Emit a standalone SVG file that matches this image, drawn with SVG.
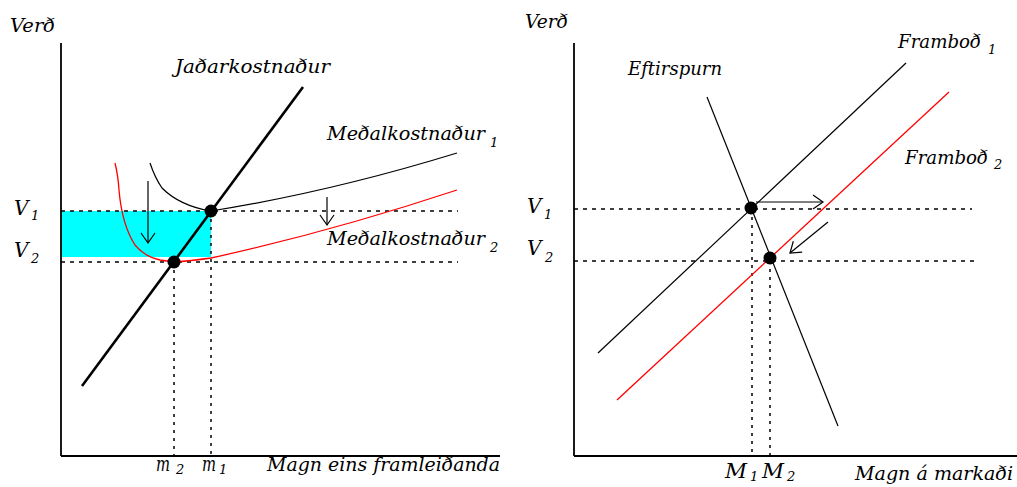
<svg xmlns="http://www.w3.org/2000/svg" width="1017" height="487" viewBox="0 0 1017 487">
<style>
text{font-family:"DejaVu Serif","Liberation Serif",serif;font-style:italic;fill:#000}
.lbl{font-size:18px}
.big{font-size:20px}
.sub{font-size:13px}
.axis{stroke:#000;stroke-width:1.8;fill:none}
.thin{stroke:#000;stroke-width:1.2;fill:none}
.red{stroke:#ff0000;stroke-width:1.3;fill:none}
.mc{stroke:#000;stroke-width:2.6;fill:none}
.dh{stroke:#000;stroke-width:1.3;stroke-dasharray:4 5;fill:none}
.dv{stroke:#000;stroke-width:1.5;stroke-dasharray:3 5;fill:none}
.arr{stroke:#000;stroke-width:1.2;fill:none;marker-end:url(#open)}
.dot{fill:#000}
</style>
<defs>
<marker id="open" markerUnits="userSpaceOnUse" markerWidth="20" markerHeight="20" viewBox="-12 -10 14 20" refX="0" refY="0" orient="auto">
<path d="M-10,-7 L0,0 L-10,7" fill="none" stroke="#000" stroke-width="1.2"/>
</marker>
</defs>
<rect width="1017" height="487" fill="#fff"/>

<g id="left-chart">
<g id="area"><rect x="61" y="211" width="150" height="46" fill="#00ffff"/></g>
<g id="axes-left">
<line class="axis" x1="61" y1="43" x2="61" y2="456"/>
<line class="axis" x1="61" y1="456" x2="500" y2="456"/>
</g>
<g id="guides-left">
<line class="dh" x1="61" y1="211" x2="458" y2="211"/>
<line class="dh" x1="61" y1="262" x2="458" y2="262"/>
<line class="dv" x1="174" y1="262" x2="174" y2="456"/>
<line class="dv" x1="211" y1="211" x2="211" y2="456"/>
</g>
<g id="ac1"><path class="thin" d="M150,163 Q155,178 162,188 Q180,206 211,211 Q330,192 457,153"/></g>
<g id="ac2"><path class="red" d="M115,163 Q118,175 119,190 Q122,225 135,245 Q145,257 160,260 L174,262 Q190,261 211,258 Q330,232 457,190"/></g>
<g id="mc"><line class="mc" x1="82" y1="386" x2="303" y2="87"/></g>
<g id="connectors-left">
<line class="arr" x1="148" y1="181" x2="148" y2="243"/>
<line class="arr" x1="327" y1="197" x2="327" y2="225"/>
</g>
<g id="points-left">
<circle class="dot" cx="211" cy="211" r="6.5"/>
<circle class="dot" cx="174" cy="262" r="6.5"/>
</g>
<g id="labels-left">
<text class="lbl" x="10" y="32" textLength="45" lengthAdjust="spacingAndGlyphs">Verð</text>
<text class="lbl" x="175" y="73" textLength="155" lengthAdjust="spacingAndGlyphs">Jaðarkostnaður</text>
<text class="lbl" x="327" y="140" textLength="158" lengthAdjust="spacingAndGlyphs">Meðalkostnaður</text>
<text class="sub" x="490" y="147">1</text>
<text class="lbl" x="327" y="245" textLength="158" lengthAdjust="spacingAndGlyphs">Meðalkostnaður</text>
<text class="sub" x="490" y="252">2</text>
<text class="big" x="14" y="215">V</text>
<text class="sub" x="31" y="220">1</text>
<text class="big" x="14" y="257">V</text>
<text class="sub" x="31" y="263">2</text>
<text class="big" x="156" y="471" textLength="14" lengthAdjust="spacingAndGlyphs">m</text>
<text class="sub" x="176" y="474">2</text>
<text class="big" x="202" y="471" textLength="14" lengthAdjust="spacingAndGlyphs">m</text>
<text class="sub" x="219" y="474">1</text>
<text class="lbl" x="267" y="471" textLength="233" lengthAdjust="spacingAndGlyphs">Magn eins framleiðanda</text>
</g>
</g>

<g id="right-chart">
<g id="axes-right">
<line class="axis" x1="574" y1="43" x2="574" y2="456"/>
<line class="axis" x1="574" y1="456" x2="1017" y2="456"/>
</g>
<g id="guides-right">
<line class="dh" x1="574" y1="209" x2="972" y2="209"/>
<line class="dh" x1="574" y1="261" x2="974" y2="261"/>
<line class="dv" x1="752" y1="209" x2="752" y2="456"/>
<line class="dv" x1="770" y1="261" x2="770" y2="456"/>
</g>
<g id="demand"><line class="thin" x1="707" y1="97" x2="838" y2="426"/></g>
<g id="supply1"><line class="thin" x1="598" y1="353" x2="906" y2="63"/></g>
<g id="supply2"><line class="red" x1="617" y1="400" x2="949" y2="92"/></g>
<g id="connectors-right">
<line class="arr" x1="756" y1="202" x2="823" y2="202"/>
<line class="arr" x1="828" y1="222" x2="790" y2="253"/>
</g>
<g id="points-right">
<circle class="dot" cx="751" cy="208" r="6.5"/>
<circle class="dot" cx="770" cy="258" r="6.5"/>
</g>
<g id="labels-right">
<text class="lbl" x="525" y="28" textLength="43" lengthAdjust="spacingAndGlyphs">Verð</text>
<text class="lbl" x="628" y="75" textLength="94" lengthAdjust="spacingAndGlyphs">Eftirspurn</text>
<text class="lbl" x="898" y="48" textLength="83" lengthAdjust="spacingAndGlyphs">Framboð</text>
<text class="sub" x="988" y="54">1</text>
<text class="lbl" x="905" y="164" textLength="83" lengthAdjust="spacingAndGlyphs">Framboð</text>
<text class="sub" x="994" y="169">2</text>
<text class="big" x="527" y="213">V</text>
<text class="sub" x="544" y="219">1</text>
<text class="big" x="527" y="255">V</text>
<text class="sub" x="545" y="262">2</text>
<text class="big" x="725" y="478" textLength="22" lengthAdjust="spacingAndGlyphs">M</text>
<text class="sub" x="750" y="481">1</text>
<text class="big" x="762" y="478" textLength="22" lengthAdjust="spacingAndGlyphs">M</text>
<text class="sub" x="787" y="481">2</text>
<text class="lbl" x="855" y="480" textLength="158" lengthAdjust="spacingAndGlyphs">Magn á markaði</text>
</g>
</g>
</svg>
